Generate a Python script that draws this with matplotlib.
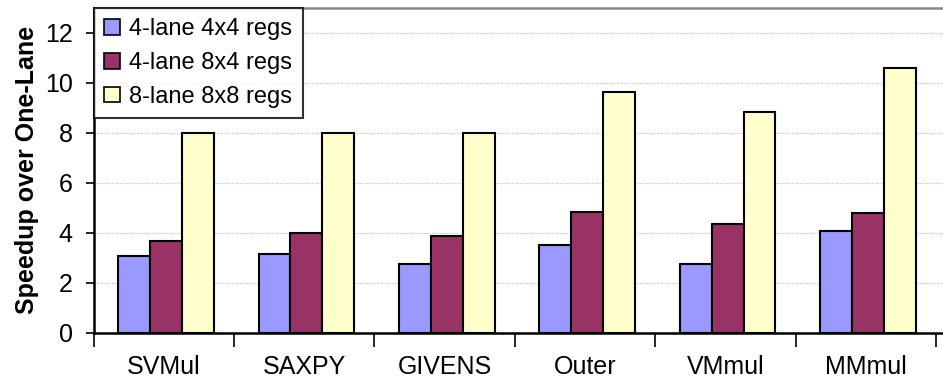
import matplotlib
matplotlib.use("Agg")
import matplotlib.pyplot as plt
import numpy as np

categories = ["SVMul", "SAXPY", "GIVENS", "Outer", "VMmul", "MMmul"]
series_names = ["4-lane 4x4 regs", "4-lane 8x4 regs", "8-lane 8x8 regs"]
lane4_4x4 = [3.08, 3.15, 2.73, 3.5, 2.73, 4.05]
lane4_8x4 = [3.65, 4.0, 3.86, 4.84, 4.36, 4.78]
lane8_8x8 = [8.0, 8.0, 8.0, 9.62, 8.84, 10.58]
colors = ["#9999FF", "#993366", "#FFFFCC"]

plt.rcParams['font.family'] = ['Liberation Sans', 'DejaVu Sans']

fig = plt.figure(figsize=(9.43, 3.88), dpi=100)
ax = fig.add_axes([0.0992, 0.1425, 0.9008, 0.838])

x = np.arange(len(categories))
w = 0.227
for i, (vals, name, c) in enumerate(zip([lane4_4x4, lane4_8x4, lane8_8x8], series_names, colors)):
    ax.bar(x + (i - 1) * w + 0.016, vals, width=w, color=c, edgecolor="black",
           linewidth=1.5, label=name, zorder=3)

ax.set_xlim(-0.5, 5.55)
ax.set_ylim(0, 13)
ax.set_yticks(np.arange(0, 13, 2))
ax.yaxis.grid(True, color="#c8c8c8", linestyle=(0, (1, 1)), linewidth=0.9, zorder=0)
ax.tick_params(axis="y", labelsize=18, length=6, width=1.2, pad=9)

ax.set_xticks(x)
ax.set_xticklabels(categories)
ax.set_xticks(np.arange(-0.5, 6, 1), minor=True)
ax.tick_params(axis="x", which="major", length=0, labelsize=18, pad=16)
ax.tick_params(axis="x", which="minor", length=10, width=1.2)

for s in ["left", "bottom"]:
    ax.spines[s].set_linewidth(1.8)
    ax.spines[s].set_color("black")
ax.spines["top"].set_color("#888888")
ax.spines["top"].set_linewidth(1.8)
ax.spines["right"].set_visible(False)

ax.set_ylabel("Speedup over One-Lane", fontsize=18, fontweight="bold", labelpad=4)

leg = ax.legend(loc="upper left", bbox_to_anchor=(0.0, 1.0), borderaxespad=0,
                fontsize=17, frameon=True, fancybox=False, shadow=False,
                handlelength=0.65, handleheight=0.65, handletextpad=0.4,
                labelspacing=0.5, borderpad=0.45)
leg.get_frame().set_edgecolor("black")
leg.get_frame().set_linewidth(1.5)
for p in leg.get_patches():
    p.set_linewidth(1.2)

fig.savefig("out.png", dpi=100)
